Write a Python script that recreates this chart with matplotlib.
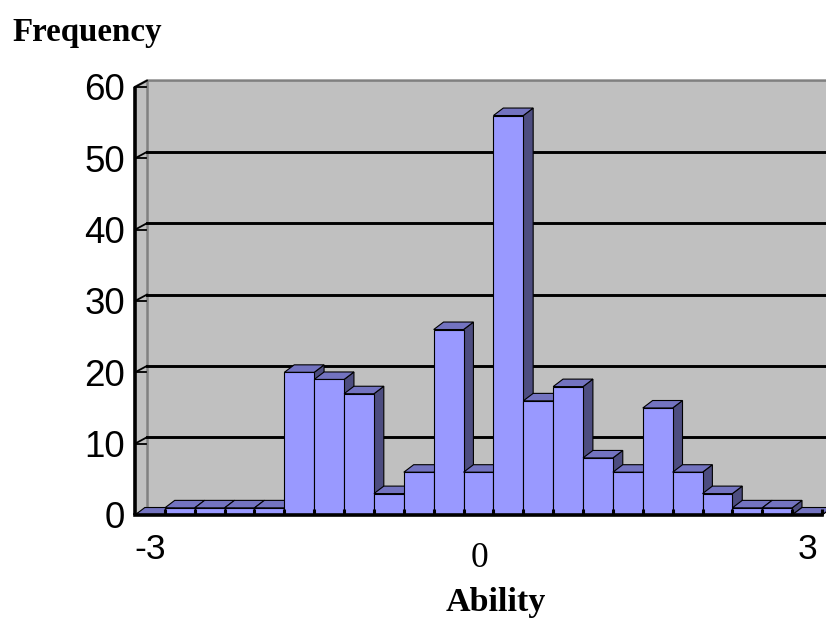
import numpy as np
import matplotlib.pyplot as plt
from matplotlib.patches import Polygon, Rectangle

# ability histogram, 23 bins from -3 to 3
freq = [0, 1, 1, 1, 1, 20, 19, 17, 3, 6, 26, 6, 56, 16, 18, 8, 6, 15, 6, 3, 1, 1, 0]
y_ticks = [0, 10, 20, 30, 40, 50, 60]
x_tick_pos = [0, 22]
x_tick_text = ["-3", "3"]
mid_pos = 11
mid_text = "0"

FRONT = "#9999FF"
TOP = "#7373C0"
SIDE = "#4D4D80"
WALL = "#C0C0C0"
WALL_EDGE = "#808080"

# oblique depth offsets (data units)
wall_dx, wall_dy = 0.40, 0.9
bar_dx, bar_dy = 0.33, 1.05

fig = plt.figure(figsize=(8.26, 6.19), dpi=100)
ax = fig.add_axes([135 / 826, 104 / 619, 687 / 826, 428 / 619])
ax.set_xlim(0, len(freq))
ax.set_ylim(0, 60)
ax.axis("off")

n = len(freq)
x_end = n + 0.6
ymax = y_ticks[-1]

# back wall, side wall and floor
ax.add_patch(Rectangle((wall_dx, wall_dy), x_end - wall_dx, ymax, facecolor=WALL,
                       edgecolor="none", clip_on=False, zorder=1))
ax.add_patch(Polygon([(0, 0), (wall_dx, wall_dy), (wall_dx, ymax + wall_dy), (0, ymax)],
                     closed=True, facecolor=WALL, edgecolor="none", clip_on=False, zorder=1))
ax.add_patch(Polygon([(0, 0), (n, 0), (n + wall_dx, wall_dy), (wall_dx, wall_dy)],
                     closed=True, facecolor=WALL, edgecolor="none", clip_on=False, zorder=1))
ax.plot([wall_dx, wall_dx], [wall_dy, ymax + wall_dy], color=WALL_EDGE, lw=1.8, clip_on=False, zorder=2)
ax.plot([0, wall_dx, x_end], [ymax, ymax + wall_dy, ymax + wall_dy], color=WALL_EDGE, lw=1.8,
        clip_on=False, zorder=2)

# gridlines on the back wall and ticks on the side wall
for v in y_ticks:
    if 0 < v < ymax:
        ax.plot([wall_dx, x_end], [v + wall_dy, v + wall_dy], color="black", lw=2.1,
                clip_on=False, zorder=2)
    ax.plot([0, wall_dx], [v, v + wall_dy], color="black", lw=1.3, clip_on=False, zorder=3)
    ax.plot([0, wall_dx * 0.9], [v, v], color="black", lw=1.3, clip_on=False, zorder=3)
    ax.text(-0.33, v - 0.55, str(v), ha="right", va="center", fontsize=26.5,
            family="Liberation Sans")

# bars, drawn left to right so neighbours overlap correctly
for i, v in enumerate(freq):
    z = 4 + i * 0.01
    ax.add_patch(Polygon([(i + 1, 0), (i + 1 + bar_dx, bar_dy), (i + 1 + bar_dx, v + bar_dy), (i + 1, v)],
                         closed=True, facecolor=SIDE, edgecolor="black", lw=0.8, clip_on=False, zorder=z))
    ax.add_patch(Polygon([(i, v), (i + 1, v), (i + 1 + bar_dx, v + bar_dy), (i + bar_dx, v + bar_dy)],
                         closed=True, facecolor=TOP, edgecolor="black", lw=0.8, clip_on=False, zorder=z))
    if v > 0:
        ax.add_patch(Rectangle((i, 0), 1, v, facecolor=FRONT, edgecolor="black", lw=0.8,
                               clip_on=False, zorder=z))

# axes lines and category ticks
ax.plot([0, 0], [0, ymax], color="black", lw=2.6, clip_on=False, zorder=6, solid_capstyle="butt")
ax.plot([0, n], [0, 0], color="black", lw=2.6, clip_on=False, zorder=6, solid_capstyle="projecting")
for b in range(1, n + 1):
    ax.plot([b, b], [0, 0.8], color="black", lw=2.2, clip_on=False, zorder=6, solid_capstyle="butt")

for p, t in zip(x_tick_pos, x_tick_text):
    ax.text(p + 0.5, -4.8, t, ha="center", va="center", fontsize=25.5, family="Liberation Sans")
ax.text(mid_pos + 0.55, -6.05, mid_text, ha="center", va="center", fontsize=25.5, family="Liberation Serif")

fig.text(12.5 / 826, 1 - 41.5 / 619, "Frequency", ha="left", va="baseline", fontsize=23.8,
         family="Liberation Serif", fontweight="bold")
fig.text(496 / 826, 1 - 611 / 619, "Ability", ha="center", va="baseline", fontsize=24.5,
         family="Liberation Serif", fontweight="bold")

fig.savefig("out.png", dpi=100)
